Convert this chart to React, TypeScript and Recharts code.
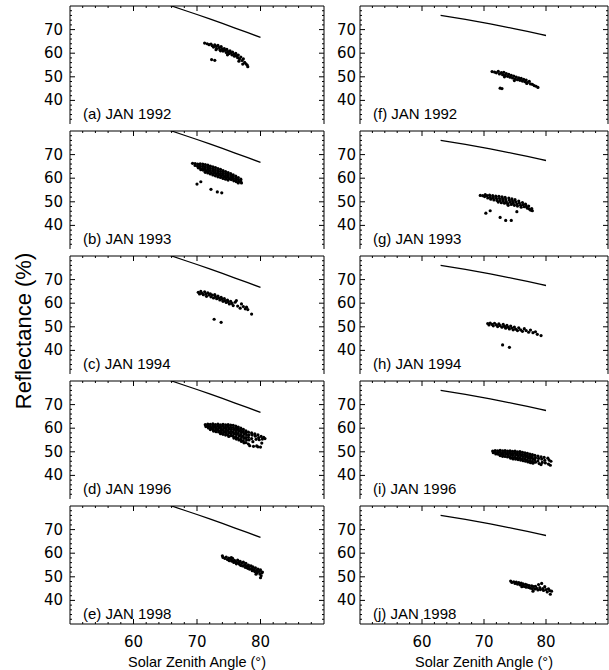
import React from 'react';
import { ComposedChart, Scatter, Line, XAxis, YAxis } from 'recharts';

type Pt = [number, number];

// axis ticks
const X_TICKS = [52, 54, 56, 58, 60, 62, 64, 66, 68, 70, 72, 74, 76, 78, 80, 82, 84, 86, 88];
const Y_TICKS = [32, 34, 36, 38, 40, 42, 44, 46, 48, 50, 52, 54, 56, 58, 60, 62, 64, 66, 68, 70, 72, 74, 76, 78];
const X_LABELS = [60, 70, 80];
const Y_LABELS = [40, 50, 60, 70];

// model curves (left column / right column)
const LEFT_CURVE_X = [64, 66, 68, 70, 72, 74, 76, 78, 80];
const LEFT_CURVE_Y = [81.8, 80.0, 78.2, 76.4, 74.5, 72.6, 70.6, 68.7, 66.7];
const RIGHT_CURVE_X = [63, 65, 67, 69, 71, 73, 75, 77, 79, 80];
const RIGHT_CURVE_Y = [76.0, 75.2, 74.3, 73.4, 72.4, 71.4, 70.3, 69.2, 68.1, 67.5];

// observations, [solar zenith angle, reflectance]
const PTS_A: Pt[] = [
  [71.2, 64.3], [71.6, 64.0], [71.9, 63.6], [72.2, 63.9], [72.4, 63.2], [72.6, 62.6], [72.8, 63.5], [73.0, 62.9],
  [73.1, 62.0], [73.3, 63.3], [73.5, 62.4], [73.6, 61.5], [73.8, 62.8], [74.0, 61.8], [74.1, 60.9], [74.3, 62.0],
  [74.4, 61.2], [74.6, 60.3], [74.7, 61.6], [74.9, 60.7], [75.0, 59.8], [75.2, 61.0], [75.3, 60.1], [75.5, 59.3],
  [75.6, 60.5], [75.8, 59.6], [75.9, 58.7], [76.1, 59.9], [76.2, 58.9], [76.4, 58.1], [76.5, 59.2], [76.7, 57.6],
  [76.9, 58.4], [77.1, 56.9], [77.3, 57.6], [77.5, 56.1], [77.7, 55.5], [77.9, 55.0], [78.0, 54.3], [77.2, 55.4],
  [76.6, 56.6], [73.0, 61.5], [74.8, 59.3], [73.7, 61.0], [72.3, 57.3], [72.8, 57.0],
];
const PTS_B: Pt[] = [
  [69.3, 66.3], [69.7, 66.2], [69.7, 65.4], [70.1, 66.0], [70.1, 65.1], [70.2, 64.4], [70.5, 66.1], [70.5, 65.2],
  [70.5, 64.3], [70.6, 63.6], [70.9, 66.0], [70.9, 65.1], [70.9, 64.2], [71.0, 63.4], [71.3, 65.8], [71.3, 64.9],
  [71.3, 64.0], [71.4, 63.1], [71.3, 62.5], [71.7, 65.5], [71.7, 64.6], [71.7, 63.7], [71.8, 62.8], [71.7, 62.2],
  [72.1, 65.1], [72.1, 64.2], [72.1, 63.3], [72.2, 62.4], [72.1, 61.8], [72.5, 64.8], [72.5, 63.9], [72.5, 63.0],
  [72.6, 62.1], [72.5, 61.4], [72.9, 64.5], [72.9, 63.5], [72.9, 62.6], [73.0, 61.7], [72.9, 61.0], [73.3, 64.1],
  [73.3, 63.2], [73.3, 62.2], [73.4, 61.3], [73.3, 60.6], [73.7, 63.7], [73.7, 62.8], [73.7, 61.9], [73.8, 61.0],
  [73.7, 60.3], [74.1, 63.2], [74.1, 62.3], [74.1, 61.4], [74.2, 60.6], [74.1, 59.9], [74.5, 62.8], [74.5, 61.9],
  [74.5, 61.0], [74.6, 60.2], [74.5, 59.6], [74.9, 62.4], [74.9, 61.5], [74.9, 60.6], [75.0, 59.8], [74.9, 59.2],
  [75.3, 61.9], [75.3, 61.0], [75.3, 60.1], [75.4, 59.4], [75.7, 61.4], [75.7, 60.6], [75.7, 59.7], [75.8, 58.9],
  [76.1, 60.9], [76.1, 60.0], [76.1, 59.2], [76.2, 58.5], [76.5, 60.3], [76.5, 59.4], [76.6, 58.6], [76.5, 58.0],
  [76.9, 59.6], [76.9, 58.8], [77.0, 58.0], [70.0, 57.5], [70.6, 58.5], [72.2, 55.3], [73.2, 54.2], [73.9, 53.8],
];
const PTS_C: Pt[] = [
  [70.2, 64.6], [70.4, 63.9], [70.6, 65.0], [70.8, 64.2], [71.0, 63.6], [71.2, 64.8], [71.4, 63.9], [71.5, 62.9],
  [71.7, 64.4], [71.9, 63.5], [72.1, 64.0], [72.2, 62.7], [72.4, 63.4], [72.6, 62.2], [72.8, 63.6], [72.9, 62.8],
  [73.1, 61.9], [73.3, 63.0], [73.4, 62.2], [73.6, 61.4], [73.8, 62.5], [73.9, 61.7], [74.1, 60.8], [74.3, 62.0],
  [74.4, 61.1], [74.6, 60.3], [74.8, 61.3], [74.9, 60.5], [75.1, 59.7], [75.3, 60.8], [75.5, 59.9], [75.7, 59.0],
  [76.0, 60.4], [76.2, 61.1], [76.4, 58.8], [76.8, 57.9], [77.0, 59.7], [77.3, 58.6], [77.6, 57.6], [77.8, 58.3],
  [78.0, 57.3], [78.6, 55.4], [72.7, 53.2], [73.8, 51.9],
];
const PTS_D: Pt[] = [
  [71.3, 61.5], [71.4, 60.7], [71.7, 61.7], [71.7, 60.9], [71.8, 60.1], [72.1, 61.6], [72.1, 60.8], [72.2, 60.0],
  [72.1, 59.4], [72.5, 61.8], [72.5, 61.0], [72.6, 60.2], [72.5, 59.4], [72.6, 58.8], [72.9, 61.5], [72.9, 60.7],
  [73.0, 59.9], [72.9, 59.1], [73.0, 58.5], [73.3, 61.7], [73.3, 60.9], [73.4, 60.1], [73.3, 59.3], [73.4, 58.4],
  [73.7, 61.4], [73.7, 60.6], [73.8, 59.8], [73.7, 59.0], [73.8, 58.2], [73.7, 57.7], [74.1, 61.6], [74.1, 60.8],
  [74.2, 59.9], [74.1, 59.1], [74.2, 58.2], [74.1, 57.4], [74.5, 61.4], [74.5, 60.5], [74.6, 59.7], [74.5, 58.8],
  [74.6, 58.0], [74.5, 57.1], [74.9, 61.5], [74.9, 60.7], [75.0, 59.8], [74.9, 59.0], [75.0, 58.1], [74.9, 57.2],
  [75.0, 56.5], [75.3, 61.3], [75.3, 60.4], [75.4, 59.5], [75.3, 58.6], [75.4, 57.7], [75.3, 56.8], [75.7, 61.2],
  [75.7, 60.3], [75.8, 59.4], [75.7, 58.5], [75.8, 57.6], [75.7, 56.6], [75.8, 55.8], [76.1, 60.9], [76.1, 60.0],
  [76.2, 59.1], [76.1, 58.2], [76.2, 57.3], [76.1, 56.3], [76.2, 55.4], [76.5, 60.5], [76.5, 59.6], [76.6, 58.7],
  [76.5, 57.8], [76.6, 56.8], [76.5, 55.8], [76.6, 55.0], [76.9, 60.0], [76.9, 59.1], [77.0, 58.2], [76.9, 57.3],
  [77.0, 56.3], [76.9, 55.3], [77.0, 54.4], [77.3, 59.5], [77.3, 58.6], [77.4, 57.7], [77.3, 56.7], [77.4, 55.7],
  [77.3, 54.6], [77.4, 53.8], [77.7, 58.9], [77.7, 58.0], [77.8, 57.1], [77.7, 56.0], [77.8, 55.0], [77.7, 53.9],
  [78.1, 58.3], [78.2, 57.2], [78.1, 56.1], [78.2, 55.0], [78.1, 53.3], [78.3, 52.6], [78.6, 58.0], [78.7, 57.1],
  [78.6, 55.6], [78.8, 54.3], [78.9, 52.3], [79.1, 57.6], [79.2, 56.6], [79.3, 55.3], [79.4, 52.5], [79.6, 57.2],
  [79.7, 56.0], [79.8, 55.1], [79.6, 52.1], [80.1, 56.5], [80.3, 55.4], [80.5, 56.1], [80.7, 55.6], [80.2, 53.7],
  [80.0, 52.0],
];
const PTS_E: Pt[] = [
  [74.0, 58.9], [74.1, 58.2], [74.4, 57.8], [74.6, 58.4], [74.8, 57.3], [75.0, 57.9], [75.1, 56.8], [75.3, 57.5],
  [75.5, 56.6], [75.6, 57.8], [75.8, 56.1], [75.9, 57.0], [76.1, 56.4], [76.2, 55.5], [76.4, 57.1], [76.5, 56.0],
  [76.7, 55.3], [76.8, 56.5], [76.9, 54.8], [77.1, 55.8], [77.2, 54.6], [77.3, 56.2], [77.5, 55.1], [77.6, 54.0],
  [77.7, 55.7], [77.8, 54.5], [78.0, 53.6], [78.1, 55.0], [78.2, 54.1], [78.3, 53.2], [78.5, 54.6], [78.6, 53.5],
  [78.7, 52.6], [78.8, 54.2], [79.0, 53.0], [79.1, 52.2], [79.2, 53.8], [79.4, 52.7], [79.5, 51.8], [79.6, 53.3],
  [79.8, 52.3], [79.9, 51.2], [80.0, 52.9], [80.1, 50.4], [80.2, 51.6], [80.0, 49.6], [80.3, 52.0], [75.4, 58.1],
  [76.6, 55.9], [77.9, 53.9], [78.9, 52.9], [79.3, 51.1],
];
const PTS_F: Pt[] = [
  [71.3, 52.2], [71.7, 52.0], [72.0, 51.7], [72.3, 52.3], [72.5, 51.2], [72.8, 51.8], [73.0, 50.9], [73.2, 51.9],
  [73.4, 50.6], [73.6, 51.4], [73.8, 50.2], [74.0, 51.0], [74.2, 49.8], [74.4, 50.6], [74.6, 49.5], [74.8, 50.3],
  [75.0, 49.1], [75.2, 49.9], [75.4, 48.8], [75.6, 49.6], [75.8, 48.5], [76.0, 49.3], [76.2, 48.2], [76.4, 48.9],
  [76.6, 47.9], [76.8, 48.6], [77.0, 47.5], [77.3, 48.1], [77.5, 47.0], [77.8, 46.8], [78.1, 46.3], [78.4, 46.0],
  [78.7, 45.5], [74.9, 48.4], [73.3, 50.0], [76.9, 47.2], [72.6, 45.2], [72.9, 45.0],
];
const PTS_G: Pt[] = [
  [69.4, 52.7], [69.8, 52.6], [70.1, 52.2], [70.2, 53.0], [70.5, 52.6], [70.6, 51.6], [70.9, 52.8], [71.0, 51.9],
  [71.1, 51.1], [71.4, 52.6], [71.5, 51.7], [71.6, 50.8], [71.9, 52.4], [72.0, 51.5], [72.1, 50.6], [72.3, 49.9],
  [72.4, 52.3], [72.5, 51.4], [72.6, 50.5], [72.8, 49.6], [72.9, 52.1], [73.0, 51.2], [73.1, 50.3], [73.3, 49.4],
  [73.4, 51.9], [73.5, 51.0], [73.6, 50.1], [73.8, 49.2], [73.9, 48.5], [74.0, 51.6], [74.1, 50.7], [74.2, 49.8],
  [74.4, 48.9], [74.5, 51.2], [74.6, 50.3], [74.7, 49.4], [74.9, 48.5], [75.0, 50.9], [75.1, 50.0], [75.3, 49.1],
  [75.4, 48.2], [75.6, 50.3], [75.7, 49.4], [75.9, 48.5], [76.0, 47.7], [76.2, 49.7], [76.3, 48.8], [76.5, 47.9],
  [76.7, 49.0], [76.8, 48.1], [77.0, 47.3], [77.2, 48.2], [77.3, 47.0], [77.5, 46.5], [77.7, 47.1], [77.8, 46.2],
  [70.3, 45.2], [71.0, 46.2], [72.6, 43.4], [73.5, 42.1], [74.4, 42.1], [75.3, 45.8],
];
const PTS_H: Pt[] = [
  [70.6, 51.4], [70.8, 50.8], [71.0, 51.6], [71.3, 51.0], [71.5, 50.4], [71.7, 51.5], [72.0, 50.8], [72.2, 50.1],
  [72.4, 51.2], [72.6, 50.5], [72.9, 49.8], [73.1, 51.0], [73.3, 50.2], [73.5, 49.4], [73.7, 50.6], [73.9, 49.8],
  [74.1, 49.1], [74.3, 50.3], [74.5, 49.5], [74.7, 48.7], [74.9, 49.9], [75.1, 49.0], [75.4, 48.4], [75.6, 49.6],
  [75.9, 48.7], [76.2, 48.1], [76.5, 49.2], [76.8, 48.4], [77.2, 47.7], [77.5, 48.6], [77.9, 47.5], [78.3, 47.9],
  [78.6, 46.8], [79.2, 46.3], [73.0, 42.3], [74.1, 41.3],
];
const PTS_I: Pt[] = [
  [71.4, 50.3], [71.5, 49.6], [71.8, 50.5], [71.8, 49.8], [71.9, 49.1], [72.2, 50.4], [72.2, 49.7], [72.3, 49.0],
  [72.6, 50.6], [72.6, 49.8], [72.7, 49.0], [72.6, 48.4], [73.0, 50.4], [73.0, 49.6], [73.1, 48.8], [73.0, 48.1],
  [73.4, 50.5], [73.4, 49.7], [73.5, 48.9], [73.4, 48.0], [73.8, 50.3], [73.8, 49.5], [73.9, 48.7], [73.8, 47.8],
  [74.2, 50.4], [74.2, 49.6], [74.3, 48.8], [74.2, 47.9], [74.3, 47.3], [74.6, 50.2], [74.6, 49.4], [74.7, 48.6],
  [74.6, 47.7], [74.7, 47.0], [75.0, 50.3], [75.0, 49.5], [75.1, 48.6], [75.0, 47.7], [75.1, 46.9], [75.4, 50.0],
  [75.4, 49.2], [75.5, 48.3], [75.4, 47.4], [75.5, 46.7], [75.8, 50.1], [75.8, 49.2], [75.9, 48.3], [75.8, 47.4],
  [75.9, 46.5], [76.2, 49.8], [76.2, 48.9], [76.3, 48.0], [76.2, 47.1], [76.3, 46.2], [76.6, 49.6], [76.6, 48.7],
  [76.7, 47.8], [76.6, 46.9], [76.7, 46.0], [77.0, 49.3], [77.0, 48.4], [77.1, 47.5], [77.0, 46.6], [77.1, 45.7],
  [77.4, 49.0], [77.4, 48.1], [77.5, 47.2], [77.4, 46.3], [77.5, 45.4], [77.8, 48.8], [77.8, 47.8], [77.9, 46.9],
  [77.8, 46.0], [77.9, 45.2], [78.2, 48.5], [78.3, 47.5], [78.2, 46.6], [78.3, 45.6], [78.7, 48.2], [78.8, 47.2],
  [78.7, 46.1], [78.9, 45.0], [79.2, 47.9], [79.3, 46.9], [79.4, 45.5], [79.2, 44.6], [79.7, 47.6], [79.8, 46.4],
  [79.9, 45.3], [80.3, 47.3], [80.5, 46.5], [80.4, 44.8], [80.8, 46.0], [80.7, 44.3],
];
const PTS_J: Pt[] = [
  [74.3, 48.2], [74.5, 47.6], [74.8, 47.9], [75.0, 47.2], [75.2, 47.8], [75.4, 46.9], [75.6, 47.5], [75.8, 46.6],
  [76.0, 47.3], [76.2, 46.4], [76.3, 47.0], [76.5, 45.9], [76.7, 46.8], [76.8, 45.6], [77.0, 46.5], [77.2, 45.5],
  [77.3, 46.3], [77.5, 45.2], [77.7, 46.2], [77.8, 45.0], [78.0, 45.9], [78.2, 44.8], [78.3, 46.0], [78.5, 45.1],
  [78.7, 44.4], [78.8, 46.7], [79.0, 45.4], [79.1, 44.6], [79.3, 47.2], [79.5, 45.0], [79.6, 44.2], [79.8, 45.8],
  [80.0, 44.6], [80.2, 43.6], [80.4, 44.9], [80.6, 44.1], [80.7, 42.6], [80.9, 43.9], [77.9, 43.9], [76.1, 45.8],
];

const LEFT_TAGS = ['(a) JAN 1992', '(b) JAN 1993', '(c) JAN 1994', '(d) JAN 1996', '(e) JAN 1998'];
const RIGHT_TAGS = ['(f) JAN 1992', '(g) JAN 1993', '(h) JAN 1994', '(i) JAN 1996', '(j) JAN 1998'];
const LEFT_PTS = [PTS_A, PTS_B, PTS_C, PTS_D, PTS_E];
const RIGHT_PTS = [PTS_F, PTS_G, PTS_H, PTS_I, PTS_J];

const SANS = '"Liberation Sans", Arial, sans-serif';
const TICK_FONT = '"DejaVu Sans", sans-serif';
const PLOT_H = 118;
const AXIS_W = 45;

const toCurve = (xs: number[], ys: number[]) => xs.map((x, i) => ({ x, y: ys[i] }));
const leftCurve = toCurve(LEFT_CURVE_X, LEFT_CURVE_Y);
const rightCurve = toCurve(RIGHT_CURVE_X, RIGHT_CURVE_Y);

const dot = (p: any) => <circle cx={p.cx} cy={p.cy} r={1.6} fill="#000" />;

const Panel = ({ left, top, width, pts, curve, bottom, gap }: any) => {
  const xh = bottom ? 46 : 0;
  const data = pts.map(([x, y]: Pt) => ({ x, y }));
  const bottomTick = (p: any) => {
    const v = p.payload.value;
    const major = v % 10 === 0;
    return (
      <g>
        <line x1={p.x} y1={p.y} x2={p.x} y2={p.y - (major ? 5 : 2)} stroke="#000" />
        {bottom && X_LABELS.includes(v) && (
          <text x={p.x} y={p.y + 23} textAnchor="middle" fontSize={15} fontFamily={TICK_FONT} fill="#000">
            {v}
          </text>
        )}
      </g>
    );
  };
  const topTick = (p: any) => {
    const major = p.payload.value % 10 === 0;
    return <line x1={p.x} y1={p.y} x2={p.x} y2={p.y + (major ? 5 : 2)} stroke="#000" />;
  };
  const leftTick = (p: any) => {
    const v = p.payload.value;
    const major = v % 10 === 0;
    return (
      <g>
        <line x1={p.x} y1={p.y} x2={p.x + (major ? 5 : 2)} y2={p.y} stroke="#000" />
        {Y_LABELS.includes(v) && (
          <text x={p.x - gap} y={p.y + 5} textAnchor="end" fontSize={15} fontFamily={TICK_FONT} fill="#000">
            {v}
          </text>
        )}
      </g>
    );
  };
  const rightTick = (p: any) => {
    const major = p.payload.value % 10 === 0;
    return <line x1={p.x} y1={p.y} x2={p.x - (major ? 5 : 2)} y2={p.y} stroke="#000" />;
  };

  return (
    <div style={{ position: 'absolute', left: left - AXIS_W, top: top - 1 }}>
      <ComposedChart
        width={AXIS_W + width + 1}
        height={1 + PLOT_H + xh + 1}
        margin={{ top: 0, right: 0, bottom: 1, left: 0 }}
      >
        <XAxis
          xAxisId="b"
          dataKey="x"
          type="number"
          domain={[50, 90]}
          allowDataOverflow
          ticks={X_TICKS}
          interval={0}
          tickSize={0}
          tickMargin={0}
          tickLine={false}
          height={xh}
          tick={bottomTick}
          axisLine={{ stroke: '#000' }}
          label={
            bottom
              ? { value: 'Solar Zenith Angle (°)', position: 'insideBottom', offset: 3, fill: '#000', fontSize: 14.5, fontFamily: SANS }
              : undefined
          }
        />
        <XAxis
          xAxisId="t"
          orientation="top"
          dataKey="x"
          type="number"
          domain={[50, 90]}
          allowDataOverflow
          ticks={X_TICKS}
          interval={0}
          tickSize={0}
          tickMargin={0}
          tickLine={false}
          height={1}
          tick={topTick}
          axisLine={{ stroke: '#000' }}
        />
        <YAxis
          yAxisId="l"
          type="number"
          domain={[30, 80]}
          allowDataOverflow
          ticks={Y_TICKS}
          interval={0}
          tickSize={0}
          tickMargin={0}
          tickLine={false}
          width={AXIS_W}
          tick={leftTick}
          axisLine={{ stroke: '#000' }}
        />
        <YAxis
          yAxisId="r"
          orientation="right"
          type="number"
          domain={[30, 80]}
          allowDataOverflow
          ticks={Y_TICKS}
          interval={0}
          tickSize={0}
          tickMargin={0}
          tickLine={false}
          width={1}
          tick={rightTick}
          axisLine={{ stroke: '#000' }}
        />
        {/* invisible copy of the curve so that the top and right frame axes get drawn */}
        <Line
          xAxisId="t"
          yAxisId="r"
          data={curve}
          dataKey="y"
          type="linear"
          dot={false}
          activeDot={false}
          stroke="none"
          isAnimationActive={false}
        />
        <Line
          xAxisId="b"
          yAxisId="l"
          data={curve}
          dataKey="y"
          type="linear"
          dot={false}
          stroke="#000"
          strokeWidth={1.3}
          isAnimationActive={false}
        />
        <Scatter xAxisId="b" yAxisId="l" data={data} dataKey="y" shape={dot} isAnimationActive={false} />
      </ComposedChart>
    </div>
  );
};

const ROW_TOPS = [5.5, 130.5, 255.5, 380.5, 505.5];

export default function App() {
  return (
    <div style={{ position: 'absolute', left: 0, top: 0, width: 609, height: 670, background: '#fff', fontFamily: SANS }}>
      {ROW_TOPS.map((t, i) => (
        <Panel key={`l${i}`} left={70} top={t} width={254} pts={LEFT_PTS[i]} curve={leftCurve} bottom={i === 4} gap={7} />
      ))}
      {ROW_TOPS.map((t, i) => (
        <Panel key={`r${i}`} left={360} top={t} width={248} pts={RIGHT_PTS[i]} curve={rightCurve} bottom={i === 4} gap={4} />
      ))}
      <svg width={609} height={670} style={{ position: 'absolute', left: 0, top: 0, pointerEvents: 'none' }}>
        <text transform="rotate(-90)" x={-331} y={31} textAnchor="middle" fontSize={22} fontFamily={SANS} fill="#000">
          Reflectance (%)
        </text>
        {ROW_TOPS.map((t, i) => (
          <g key={`t${i}`}>
            <text x={83} y={t + 113.5} fontSize={15} fontFamily={SANS} fill="#000">
              {LEFT_TAGS[i]}
            </text>
            <text x={373} y={t + 113.5} fontSize={15} fontFamily={SANS} fill="#000">
              {RIGHT_TAGS[i]}
            </text>
          </g>
        ))}
      </svg>
    </div>
  );
}
